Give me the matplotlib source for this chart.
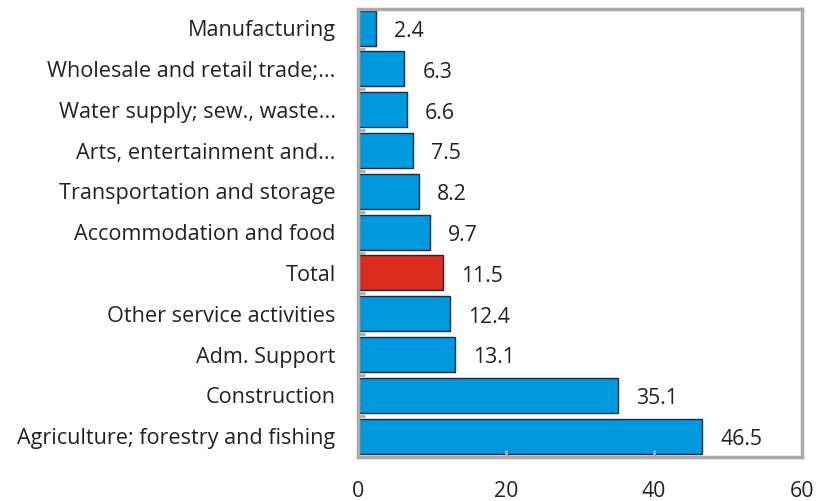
import numpy as np
import matplotlib
matplotlib.use("Agg")
import matplotlib.pyplot as plt

sectors = ["Agriculture; forestry and fishing", "Construction", "Adm. Support",
           "Other service activities", "Total", "Accommodation and food",
           "Transportation and storage", "Arts, entertainment and...",
           "Water supply; sew., waste...", "Wholesale and retail trade;...",
           "Manufacturing"]
values = [46.5, 35.1, 13.1, 12.4, 11.5, 9.7, 8.2, 7.5, 6.6, 6.3, 2.4]

blue = "#0099DD"
red = "#DD2A1F"
grey = "#ABABAB"

plt.rcParams['font.family'] = ['Open Sans', 'DejaVu Sans']

fig, ax = plt.subplots(figsize=(8.16, 5.01), dpi=100)
pos = np.arange(len(values))
colors = [red if s == "Total" else blue for s in sectors]
ax.barh(pos, values, height=0.86, color=colors, edgecolor="#1a2a40", lw=1.0)

for p, v in zip(pos, values):
    ax.annotate("%.1f" % v, (v, p), xytext=(13, -2.5), textcoords="offset points",
                va="center", ha="left", fontsize=15.3, color="#222222")

ax.set_xlim(0, 60)
ax.set_ylim(-0.51, 10.48)
ax.set_xticks([0, 20, 40, 60])
ax.set_yticks(pos)
ax.set_yticklabels(sectors)
ax.set_yticks(pos[:-1] + 0.5, minor=True)
ax.tick_params(axis="y", which="major", length=0, pad=16, labelsize=15.6, labelcolor="#222222")
ax.tick_params(axis="y", which="minor", direction="in", length=5, width=2, color=grey)
ax.tick_params(axis="x", direction="in", length=5, width=2, color=grey, pad=17,
               labelsize=15.3, labelcolor="#222222")
for sp in ax.spines.values():
    sp.set_color(grey)
    sp.set_linewidth(2.5)

plt.subplots_adjust(left=0.4385, right=0.983, top=0.983, bottom=0.088)
plt.savefig("out.png", dpi=100)
